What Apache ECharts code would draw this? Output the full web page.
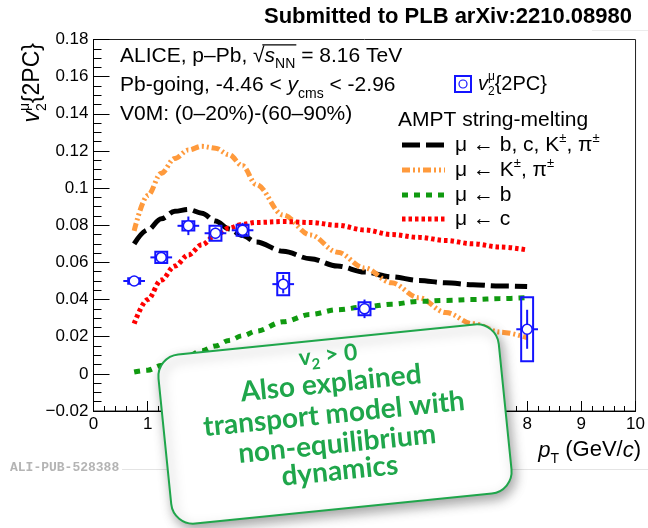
<!DOCTYPE html>
<html>
<head>
<meta charset="utf-8">
<script src="https://cdn.jsdelivr.net/npm/echarts@6/dist/echarts.min.js"></script>
<style>
  html, body { margin: 0; padding: 0; background: #fff; }
  #chart { width: 648px; height: 528px; }
</style>
</head>
<body>
<div id="chart"></div>
<script>
// ---- Measured v2 of muons vs pT (ALICE p-Pb, Pb-going) ----
const ptCenters   = [0.75, 1.25, 1.75, 2.25, 2.75, 3.5, 5.0, 8.0];
const v2Values    = [0.0500, 0.0627, 0.0797, 0.0757, 0.0773, 0.0483, 0.0350, 0.0240];
const v2Stat      = [0.0010, 0.0030, 0.0050, 0.0030, 0.0040, 0.0050, 0.0050, 0.0105];
const v2Syst      = [0.0015, 0.0030, 0.0025, 0.0040, 0.0030, 0.0060, 0.0035, 0.0172];
const ptHalfWidth = [0.2, 0.2, 0.2, 0.2, 0.2, 0.2, 0.2, 0.2];

// ---- AMPT string-melting predictions ----
const modelPt  = [0.75, 1.0, 1.25, 1.5, 1.75, 2.0, 2.25, 2.5, 2.75, 3.0, 3.5, 4.0, 4.5, 5.0, 5.5, 6.0, 6.5, 7.0, 7.5, 8.0];
const amptAll  = [0.0700, 0.0775, 0.0835, 0.0875, 0.0885, 0.0865, 0.0823, 0.0780, 0.0745, 0.0710, 0.0660, 0.0620, 0.0580, 0.0548, 0.0522, 0.0503, 0.0490, 0.0480, 0.0473, 0.0470];
const amptKPi  = [0.0770, 0.0960, 0.1080, 0.1160, 0.1205, 0.1225, 0.1215, 0.1180, 0.1120, 0.1020, 0.0855, 0.0748, 0.0655, 0.0570, 0.0490, 0.0410, 0.0330, 0.0270, 0.0225, 0.0195];
const amptB    = [0.0010, 0.0020, 0.0045, 0.0070, 0.0098, 0.0125, 0.0150, 0.0180, 0.0205, 0.0230, 0.0280, 0.0320, 0.0345, 0.0360, 0.0375, 0.0390, 0.0395, 0.0400, 0.0405, 0.0410];
const amptC    = [0.0270, 0.0400, 0.0505, 0.0580, 0.0640, 0.0695, 0.0745, 0.0785, 0.0805, 0.0815, 0.0820, 0.0815, 0.0800, 0.0775, 0.0750, 0.0735, 0.0718, 0.0700, 0.0683, 0.0667];

// ---- Axis ticks ----
const xMin = 0, xMax = 10, xStep = 1;
const yMin = -0.02, yMax = 0.18, yStep = 0.02;
const xTickLabels = ['0', '1', '2', '3', '4', '5', '6', '7', '8', '9', '10'];
const yTickLabels = ['\u22120.02', '0', '0.02', '0.04', '0.06', '0.08', '0.1', '0.12', '0.14', '0.16', '0.18'];

// ---- Styling ----
const FONT = '"Liberation Sans", Arial, Helvetica, sans-serif';
const HAND = 'Lato, "Open Sans", sans-serif';
const BLUE = '#1414ff';
const GREEN_NOTE = '#1fa64b';
const boxHalf = 0.11;

// ---- Text layout helpers (runs with sub/superscripts) ----
const measureCtx = document.createElement('canvas').getContext('2d');
function fontStr(r) {
  return (r.italic ? 'italic ' : '') + (r.bold ? 'bold ' : '') + r.size + 'px ' + (r.family || FONT);
}
function runWidth(r) {
  measureCtx.font = fontStr(r);
  return measureCtx.measureText(r.text).width;
}
function totalWidth(runs) {
  let w = 0;
  runs.forEach(r => { if (!r.noAdvance) w += runWidth(r); });
  return w;
}
// Places text runs on a common baseline; returns graphic elements and the x position of each run.
function layoutRuns(runs, x0, baseline, color, z) {
  const els = [];
  const xs = [];
  let x = x0;
  runs.forEach(r => {
    xs.push(x);
    const el = {
      type: 'text',
      x: x,
      y: baseline + (r.dy || 0) - 0.3465 * r.size,
      silent: true,
      style: {
        text: r.text, font: fontStr(r), fill: color,
        align: 'left', textAlign: 'left', verticalAlign: 'middle', textVerticalAlign: 'middle'
      }
    };
    if (z != null) el.z = z;
    els.push(el);
    if (!r.noAdvance) x += runWidth(r);
  });
  return { els, xs, end: x };
}

const graphics = [];

// Title
(function () {
  const runs = [{ text: 'Submitted to PLB arXiv:2210.08980', size: 22, bold: true }];
  const w = totalWidth(runs);
  graphics.push(...layoutRuns(runs, 632 - w, 25, '#000').els);
})();

// Header lines
(function () {
  const s = 21;
  const line1 = [
    { text: 'ALICE, p\u2013Pb, ', size: s },
    { text: '\u221A', size: s },
    { text: 's', size: s, italic: true },
    { text: 'NN', size: Math.round(s * 0.65), dy: s * 0.28 },
    { text: ' = 8.16 TeV', size: s }
  ];
  const l1 = layoutRuns(line1, 120, 63, '#000');
  graphics.push(...l1.els);
  const sqrtW = runWidth(line1[1]);
  graphics.push({
    type: 'line', silent: true,
    shape: { x1: l1.xs[1] + sqrtW * 0.8, y1: 63 - s * 0.86, x2: l1.xs[4] + 1, y2: 63 - s * 0.86 },
    style: { stroke: '#000', lineWidth: 1.2 }
  });

  const line2 = [
    { text: 'Pb-going, -4.46 < ', size: s },
    { text: 'y', size: s, italic: true },
    { text: 'cms', size: Math.round(s * 0.65), dy: s * 0.32 },
    { text: ' < -2.96', size: s }
  ];
  graphics.push(...layoutRuns(line2, 120, 92, '#000').els);

  const line3 = [{ text: 'V0M: (0\u201320%)-(60\u201390%)', size: s }];
  graphics.push(...layoutRuns(line3, 120, 121, '#000').els);
})();

// Legend: data marker
(function () {
  const s = 20;
  graphics.push({
    type: 'rect', silent: true,
    shape: { x: 455, y: 76, width: 16, height: 16 },
    style: { fill: 'none', stroke: BLUE, lineWidth: 2 }
  });
  graphics.push({
    type: 'circle', silent: true,
    shape: { cx: 463, cy: 84, r: 4 },
    style: { fill: '#fff', stroke: BLUE, lineWidth: 1.2 }
  });
  const runs = [
    { text: 'v', size: s, italic: true },
    { text: '\u03BC', size: Math.round(s * 0.62), dy: -s * 0.5, noAdvance: true },
    { text: '2', size: Math.round(s * 0.62), dy: s * 0.25 },
    { text: '{2PC}', size: s }
  ];
  graphics.push(...layoutRuns(runs, 478, 91, '#000').els);
})();

// Legend: model curves
(function () {
  const s = 21;
  graphics.push(...layoutRuns([{ text: 'AMPT string-melting', size: s }], 398, 127, '#000').els);
  const sup = Math.round(s * 0.62);
  const entries = [
    { y: 145, color: '#000', dash: [18, 6],
      runs: [{ text: '\u03BC \u2190 b, c, K', size: s }, { text: '\u00B1', size: sup, dy: -s * 0.45 },
             { text: ', \u03C0', size: s }, { text: '\u00B1', size: sup, dy: -s * 0.45 }] },
    { y: 170, color: '#ff9a3c', dash: [8, 3, 2, 3, 2, 3],
      runs: [{ text: '\u03BC \u2190 K', size: s }, { text: '\u00B1', size: sup, dy: -s * 0.45 },
             { text: ', \u03C0', size: s }, { text: '\u00B1', size: sup, dy: -s * 0.45 }] },
    { y: 195, color: '#109a10', dash: [6, 6],
      runs: [{ text: '\u03BC \u2190 b', size: s }] },
    { y: 219, color: '#ff0000', dash: [3.5, 3],
      runs: [{ text: '\u03BC \u2190 c', size: s }] }
  ];
  entries.forEach(e => {
    graphics.push({
      type: 'line', silent: true,
      shape: { x1: 402, y1: e.y, x2: 445, y2: e.y },
      style: { stroke: e.color, lineWidth: 5, lineDash: e.dash, lineCap: 'butt' }
    });
    graphics.push(...layoutRuns(e.runs, 455, e.y + 7, '#000').els);
  });
})();

// Y axis title (rotated)
(function () {
  const s = 23;
  const runs = [
    { text: 'v', size: s, italic: true },
    { text: '\u03BC', size: Math.round(s * 0.62), dy: -s * 0.5, noAdvance: true },
    { text: '2', size: Math.round(s * 0.62), dy: s * 0.25 },
    { text: '{2PC}', size: s }
  ];
  const w = totalWidth(runs);
  graphics.push({
    type: 'group', x: 41, y: 43 + w, rotation: Math.PI / 2, silent: true,
    children: layoutRuns(runs, 0, 0, '#000').els
  });
})();

// X axis title
(function () {
  const s = 22;
  const runs = [
    { text: 'p', size: s, italic: true },
    { text: 'T', size: Math.round(s * 0.62), dy: s * 0.28 },
    { text: ' (GeV/', size: s },
    { text: 'c', size: s, italic: true },
    { text: ')', size: s }
  ];
  const w = totalWidth(runs);
  graphics.push(...layoutRuns(runs, 641 - w, 458, '#000').els);
})();

// Publication tag and faint page rules
graphics.push({
  type: 'line', silent: true, z: 0,
  shape: { x1: 122, y1: 469.5, x2: 648, y2: 469.5 },
  style: { stroke: '#e4e4e4', lineWidth: 1 }
});
graphics.push({
  type: 'line', silent: true, z: 0,
  shape: { x1: 592, y1: 30.5, x2: 648, y2: 30.5 },
  style: { stroke: '#ececec', lineWidth: 1 }
});
graphics.push({
  type: 'text', silent: true, x: 10, y: 468,
  style: {
    text: 'ALI-PUB-528388', font: 'bold 13px "Liberation Mono", "DejaVu Sans Mono", monospace',
    fill: '#b4b4b4', align: 'left', textAlign: 'left', verticalAlign: 'middle', textVerticalAlign: 'middle'
  }
});

// Annotation note, drawn above the plot
(function () {
  const ZN = 100;
  const children = [{
    type: 'rect', z: ZN,
    shape: { x: -171, y: -85, width: 342, height: 170, r: 22 },
    style: {
      fill: '#fff', stroke: GREEN_NOTE, lineWidth: 2,
      shadowBlur: 12, shadowColor: 'rgba(0,0,0,0.35)', shadowOffsetX: 3, shadowOffsetY: 5
    }
  }];
  const s = 28;
  const lines = [
    { y: -68, runs: [{ text: 'v', size: 23, bold: true, family: HAND },
                     { text: '2', size: 15, bold: true, family: HAND, dy: 5 },
                     { text: ' > 0', size: 23, bold: true, family: HAND }] },
    { y: -38, runs: [{ text: 'Also explained', size: s, bold: true, family: HAND }] },
    { y: -7,  runs: [{ text: 'transport model with', size: s, bold: true, family: HAND }] },
    { y: 23,  runs: [{ text: 'non-equilibrium', size: s, bold: true, family: HAND }] },
    { y: 50,  runs: [{ text: 'dynamics', size: s, bold: true, family: HAND }] }
  ];
  lines.forEach(l => {
    const w = totalWidth(l.runs);
    children.push(...layoutRuns(l.runs, -w / 2, l.y + 0.3465 * s * 0.7, GREEN_NOTE, ZN + 1).els);
  });
  graphics.push({
    type: 'group', x: 335, y: 424, rotation: 0.101, z: ZN, silent: true,
    children: children
  });
})();

// ---- Data point renderer: syst. box, stat. bar, pT bar, open marker ----
function renderPoint(params, api) {
  const x = api.value(0), y = api.value(1);
  const st = api.value(2), sy = api.value(3), xe = api.value(4);
  const c = api.coord([x, y]);
  const bl = api.coord([x - boxHalf, y - sy]);
  const tr = api.coord([x + boxHalf, y + sy]);
  const lo = api.coord([x, y - st]);
  const hi = api.coord([x, y + st]);
  const xl = api.coord([x - xe, y]);
  const xr = api.coord([x + xe, y]);
  return {
    type: 'group',
    children: [
      { type: 'rect', shape: { x: bl[0], y: tr[1], width: tr[0] - bl[0], height: bl[1] - tr[1] },
        style: { fill: 'none', stroke: BLUE, lineWidth: 2 } },
      { type: 'line', shape: { x1: lo[0], y1: lo[1], x2: hi[0], y2: hi[1] },
        style: { stroke: BLUE, lineWidth: 2 } },
      { type: 'line', shape: { x1: xl[0], y1: xl[1], x2: xr[0], y2: xr[1] },
        style: { stroke: BLUE, lineWidth: 2 } },
      { type: 'circle', shape: { cx: c[0], cy: c[1], r: 5 },
        style: { fill: '#fff', stroke: BLUE, lineWidth: 1.5 } }
    ]
  };
}

function curve(name, values, color, dash) {
  return {
    name: name, type: 'line', z: 2,
    data: modelPt.map((x, i) => [x, values[i]]),
    showSymbol: false, smooth: 0.35, smoothMonotone: 'x',
    lineStyle: { color: color, width: 5, type: dash, cap: 'butt' },
    silent: true
  };
}

const axisText = { color: '#000', fontSize: 17, fontFamily: FONT };

const option = {
  animation: false,
  backgroundColor: '#fff',
  grid: { left: 93.5, right: 6.5, top: 39.5, bottom: 117, show: true, borderColor: '#222', borderWidth: 1, containLabel: false },
  xAxis: {
    type: 'value', min: xMin, max: xMax, interval: xStep,
    axisLine: { show: true, onZero: false, lineStyle: { color: '#000', width: 1 } },
    axisTick: { show: true, inside: true, length: 10, lineStyle: { color: '#000' } },
    minorTick: { show: true, splitNumber: 5, length: 5, lineStyle: { color: '#000' } },
    splitLine: { show: false },
    axisLabel: Object.assign({ margin: 5, formatter: v => xTickLabels[Math.round((v - xMin) / xStep)] }, axisText)
  },
  yAxis: {
    type: 'value', min: yMin, max: yMax, interval: yStep,
    axisLine: { show: true, onZero: false, lineStyle: { color: '#000', width: 1 } },
    axisTick: { show: true, inside: true, length: 16, lineStyle: { color: '#000' } },
    minorTick: { show: true, splitNumber: 4, length: 8, lineStyle: { color: '#000' } },
    splitLine: { show: false },
    axisLabel: Object.assign({ margin: 5, formatter: v => yTickLabels[Math.round((v - yMin) / yStep)] }, axisText)
  },
  series: [
    curve('\u03BC \u2190 b, c, K\u00B1, \u03C0\u00B1', amptAll, '#000', [18, 6]),
    curve('\u03BC \u2190 K\u00B1, \u03C0\u00B1', amptKPi, '#ff9a3c', [8, 3, 2, 3, 2, 3]),
    curve('\u03BC \u2190 b', amptB, '#109a10', [6, 6]),
    curve('\u03BC \u2190 c', amptC, '#ff0000', [3.5, 3]),
    {
      name: 'v2{2PC}', type: 'custom', z: 3, silent: true,
      renderItem: renderPoint,
      encode: { x: 0, y: 1 },
      data: ptCenters.map((x, i) => [x, v2Values[i], v2Stat[i], v2Syst[i], ptHalfWidth[i]])
    }
  ],
  graphic: { elements: graphics }
};

const chart = echarts.init(document.getElementById('chart'), null, { renderer: 'canvas' });
chart.setOption(option);
</script>
</body>
</html>
